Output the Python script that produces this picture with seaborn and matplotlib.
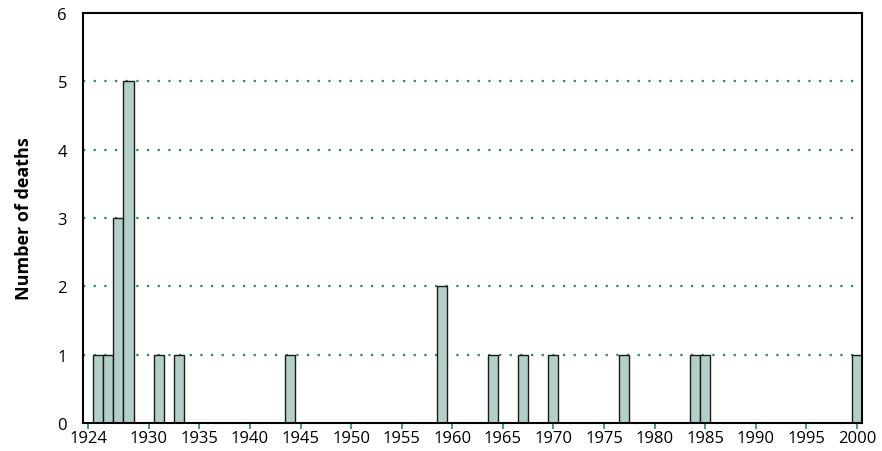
import numpy as np
import pandas as pd
import matplotlib
matplotlib.use("Agg")
import matplotlib.pyplot as plt
import seaborn as sns

# Data
years = [1925, 1926, 1927, 1928, 1931, 1933, 1944, 1959, 1964, 1967, 1970, 1977, 1984, 1985, 2000]
deaths = [1, 1, 3, 5, 1, 1, 1, 2, 1, 1, 1, 1, 1, 1, 1]
xticks = [1924] + list(range(1930, 2001, 5))
yticks = [0, 1, 2, 3, 4, 5, 6]

df = pd.DataFrame({"Year": years, "Deaths": deaths})

sns.set_style("white")
plt.rcParams["font.family"] = ["Open Sans", "DejaVu Sans"]
plt.rcParams["text.color"] = "black"
plt.rcParams["xtick.labelcolor"] = "black"
plt.rcParams["ytick.labelcolor"] = "black"
plt.rcParams["axes.labelcolor"] = "black"

fig = plt.figure(figsize=(8.82, 4.52), dpi=100)
ax = fig.add_axes([0.0941, 0.062, 0.8832, 0.907])

# gridlines behind bars
for y in yticks[1:-1]:
    ax.axhline(y, color="#1f8a78", linestyle=(0, (1, 3.8)), linewidth=1.6, zorder=0)

sns.barplot(data=df, x="Year", y="Deaths", native_scale=True, width=1,
            color="#b3cfc9", saturation=1, edgecolor="#1a1a1a", linewidth=1,
            ax=ax, zorder=2)

ax.set_xlim(1923.5, 2000.5)
ax.set_ylim(0, 6)
ax.set_xticks(xticks)
ax.set_xticklabels([str(t) for t in xticks], fontsize=12)
ax.set_yticks(yticks)
ax.set_yticklabels([str(t) for t in yticks], fontsize=12)
ax.tick_params(axis="x", bottom=True, length=4, width=1.2, color="#1f8a78", pad=1)
ax.tick_params(axis="y", left=False, pad=8)

ax.set_xlabel("")
ax.set_ylabel("Number of deaths", fontsize=13, fontweight="bold")
ax.yaxis.set_label_coords(-0.064, 0.5)

for side in ["left", "right", "top", "bottom"]:
    ax.spines[side].set_visible(True)
    ax.spines[side].set_color("black")
    ax.spines[side].set_linewidth(1.5)

fig.savefig("out.png", dpi=100)
